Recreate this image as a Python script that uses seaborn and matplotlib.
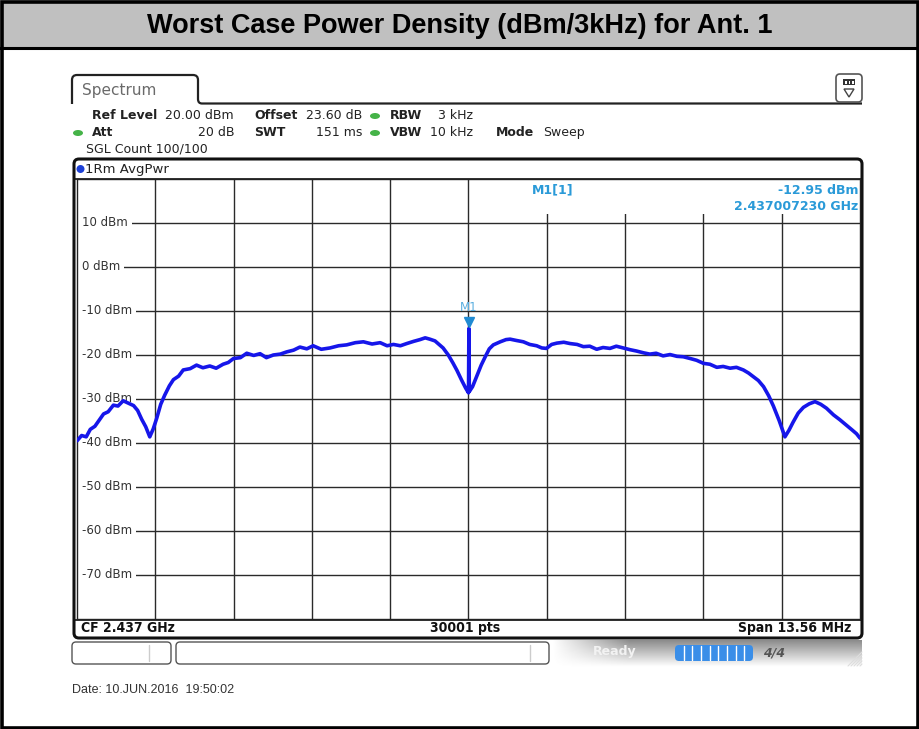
import numpy as np
import pandas as pd
import matplotlib
matplotlib.use("Agg")
import matplotlib.pyplot as plt
import seaborn as sns
import matplotlib.transforms as mtransforms
from matplotlib.patches import FancyBboxPatch, Rectangle, Ellipse, Polygon, PathPatch
from matplotlib.path import Path

# ---------------- data ----------------
TITLE = "Worst Case Power Density (dBm/3kHz) for Ant. 1"
CF_GHZ = 2.437
SPAN_MHZ = 13.56
REF_LEVEL = 20.0
BOTTOM_LEVEL = -80.0
y_ticks = [10, 0, -10, -20, -30, -40, -50, -60, -70]
y_tick_labels = ["10 dBm", "0 dBm", "-10 dBm", "-20 dBm", "-30 dBm",
                 "-40 dBm", "-50 dBm", "-60 dBm", "-70 dBm"]
n_divisions = 10

freq_offset_mhz = [
    -6.78, -6.70, -6.62, -6.55, -6.47, -6.40, -6.32, -6.24, -6.15, -6.07,
    -5.98, -5.90, -5.80, -5.73, -5.66, -5.59, -5.52, -5.46, -5.40, -5.33,
    -5.26, -5.18, -5.11, -5.02, -4.94, -4.82, -4.71, -4.60, -4.48, -4.37,
    -4.25, -4.16, -4.07, -3.95, -3.84, -3.72, -3.61, -3.50, -3.38, -3.26,
    -3.15, -3.03, -2.92, -2.80, -2.69, -2.55, -2.40, -2.25, -2.11, -1.96,
    -1.82, -1.67, -1.53, -1.41, -1.30, -1.18, -1.07, -0.95, -0.84, -0.75,
    -0.67, -0.58, -0.44, -0.35, -0.27, -0.20, -0.12, -0.05, 0.0, 0.007,
    0.014, 0.07, 0.14, 0.22, 0.29, 0.36, 0.43, 0.55, 0.65, 0.72,
    0.83, 0.95, 1.06, 1.18, 1.27, 1.35, 1.44, 1.53, 1.65, 1.76,
    1.88, 1.99, 2.10, 2.22, 2.33, 2.45, 2.56, 2.68, 2.80, 2.91,
    3.03, 3.14, 3.25, 3.37, 3.49, 3.61, 3.72, 3.84, 3.95, 4.07,
    4.18, 4.30, 4.41, 4.53, 4.64, 4.76, 4.85, 4.93, 5.02, 5.11,
    5.20, 5.28, 5.38, 5.48, 5.55, 5.62, 5.71, 5.80, 5.90, 6.00,
    6.10, 6.20, 6.32, 6.43, 6.54, 6.64, 6.72, 6.78,
]
level_dbm = [
    -39.5, -38.3, -38.6, -36.9, -36.2, -34.9, -33.4, -32.9, -31.4, -31.6,
    -30.4, -30.9, -31.5, -32.6, -34.6, -36.3, -38.6, -36.8, -34.4, -31.2,
    -29.1, -27.0, -25.6, -24.8, -23.4, -23.1, -22.3, -22.9, -22.5, -23.0,
    -22.1, -21.7, -20.8, -20.6, -19.6, -20.1, -19.7, -20.6, -20.0, -19.8,
    -19.3, -18.9, -18.2, -18.6, -17.9, -18.7, -18.4, -17.9, -17.7, -17.2,
    -17.0, -17.5, -17.2, -17.9, -17.6, -17.9, -17.4, -16.9, -16.5, -16.1,
    -16.4, -16.8, -18.4, -20.0, -21.8, -23.5, -25.7, -27.5, -28.6, -14.0,
    -28.3, -27.2, -24.9, -22.3, -20.4, -18.6, -17.7, -17.0, -16.5, -16.4,
    -16.7, -17.0, -17.6, -17.9, -18.4, -18.5, -17.6, -17.3, -17.1, -17.4,
    -17.6, -18.1, -18.0, -18.7, -18.3, -18.5, -18.0, -18.4, -18.8, -19.1,
    -19.5, -19.8, -19.6, -20.2, -19.9, -20.3, -20.4, -20.8, -21.2, -21.9,
    -22.1, -22.8, -22.6, -23.0, -22.8, -23.4, -24.1, -24.9, -25.8, -27.2,
    -29.3, -31.6, -34.9, -38.6, -37.1, -35.3, -33.2, -31.9, -31.1, -30.6,
    -31.2, -32.1, -33.6, -34.7, -35.9, -37.0, -37.9, -38.9,
]
marker_freq_ghz = 2.437007230
marker_level_dbm = -12.95

# ---------------- style ----------------
sns.set_style("white")
plt.rcParams["font.family"] = ["DejaVu Sans"]

W, H = 919, 729
fig = plt.figure(figsize=(W / 100, H / 100), dpi=100)
fig.patch.set_facecolor("white")

bg = fig.add_axes([0, 0, 1, 1])
bg.set_xlim(0, W)
bg.set_ylim(H, 0)
bg.axis("off")

# outer border + title bar
bg.add_patch(Rectangle((0, 0), W, 47, facecolor="#c0c0c0", edgecolor="none"))
bg.plot([0, W], [47.5, 47.5], color="black", lw=2.2)
bg.add_patch(Rectangle((1.5, 1.5), W - 3, H - 3, facecolor="none", edgecolor="black", lw=2.6))
bg.text(W / 2, 25.5, TITLE, ha="center", va="center", fontsize=19.5,
        fontweight="bold", family="Liberation Sans", color="black")

# spectrum tab
verts = [(72, 104), (72, 80), (72, 75), (77, 75), (193, 75), (198, 75), (198, 80),
         (198, 99), (198, 103.5), (202, 103.5), (862, 103.5)]
codes = [Path.MOVETO, Path.LINETO, Path.CURVE3, Path.CURVE3, Path.LINETO, Path.CURVE3,
         Path.CURVE3, Path.LINETO, Path.CURVE3, Path.CURVE3, Path.LINETO]
bg.add_patch(PathPatch(Path(verts, codes), facecolor="none", edgecolor="#222222", lw=1.6))
bg.text(82, 90, "Spectrum", ha="left", va="center", fontsize=11, color="#6a6a6a")

# top-right icon
bg.add_patch(FancyBboxPatch((836, 74), 26, 28, boxstyle="round,pad=0,rounding_size=4",
                            facecolor="white", edgecolor="#555555", lw=1.2))
bg.add_patch(Rectangle((843, 79), 12, 6, facecolor="#333333", edgecolor="none"))
for xx in (845, 848.5, 852):
    bg.add_patch(Rectangle((xx, 80.5), 1.8, 3, facecolor="white", edgecolor="none"))
bg.add_patch(Polygon([(844, 89), (854, 89), (849, 97)], closed=True,
                     facecolor="none", edgecolor="#444444", lw=1))

# info header
green = "#45b348"
info_items = [
    ("Ref Level", 92, 115, "bold", "left"), ("20.00 dBm", 234, 115, "normal", "right"),
    ("Offset", 254, 115, "bold", "left"), ("23.60 dB", 362, 115, "normal", "right"),
    ("RBW", 390, 115, "bold", "left"), ("3 kHz", 473, 115, "normal", "right"),
    ("Att", 92, 132, "bold", "left"), ("20 dB", 234, 132, "normal", "right"),
    ("SWT", 254, 132, "bold", "left"), ("151 ms", 362, 132, "normal", "right"),
    ("VBW", 390, 132, "bold", "left"), ("10 kHz", 473, 132, "normal", "right"),
    ("Mode", 496, 132, "bold", "left"), ("Sweep", 543, 132, "normal", "left"),
    ("SGL Count 100/100", 86, 149, "normal", "left"),
]
for txt, x, y, w, ha in info_items:
    bg.text(x, y, txt, ha=ha, va="center", fontsize=9, fontweight=w, color="#222222")
for (x, y) in [(375, 116), (78, 133), (375, 133)]:
    bg.add_patch(Ellipse((x, y), 10, 6, facecolor=green, edgecolor="none"))

# graph frame
bg.add_patch(FancyBboxPatch((74, 159), 788, 479, boxstyle="round,pad=0,rounding_size=5",
                            facecolor="white", edgecolor="#111111", lw=2.2))
bg.add_patch(Ellipse((80.5, 169), 8, 8, facecolor="#1c3fd6", edgecolor="none"))
bg.text(85, 169, "1Rm AvgPwr", ha="left", va="center", fontsize=9.5, color="#222222")
bg.plot([74, 862], [179, 179], color="#111111", lw=1.2)
bg.plot([74, 862], [619.5, 619.5], color="#111111", lw=1.2)

# bottom bar text
bb_font = dict(fontsize=10, fontweight="bold", fontstretch="condensed", color="#111111", va="center")
bg.text(81, 628, f"CF {CF_GHZ:.3f} GHz", ha="left", **bb_font)
bg.text(465, 628, "30001 pts", ha="center", **bb_font)
bg.text(851, 628, f"Span {SPAN_MHZ:.2f} MHz", ha="right", **bb_font)

# status bar
gx0, gx1, gy0, gy1 = 552, 862, 640, 667
vert = np.linspace(0.55, 1.0, 30)[:, None]
horiz = np.clip(np.linspace(0.0, 4.0, 300), 0, 1)[None, :]
grad = 1.0 - (1.0 - vert) * horiz
bg.imshow(grad, cmap="gray", vmin=0, vmax=1, extent=(gx0, gx1, gy1, gy0),
          aspect="auto", interpolation="bilinear", zorder=1)
bg.set_xlim(0, W)
bg.set_ylim(H, 0)
for (x0, x1, div) in [(72, 171, 149), (176, 549, 530)]:
    bg.add_patch(FancyBboxPatch((x0, 642), x1 - x0, 22, boxstyle="round,pad=0,rounding_size=4",
                                facecolor="white", edgecolor="#555555", lw=1, zorder=2))
    bg.plot([div, div], [645, 661], color="#cccccc", lw=1, zorder=3)
bg.text(593, 652, "Ready", ha="left", va="center", fontsize=9, fontweight="bold",
        color="#f2f2f2", zorder=3)
bg.add_patch(FancyBboxPatch((675, 645), 78, 16, boxstyle="round,pad=0,rounding_size=4",
                            facecolor="#3a8ee8", edgecolor="none", zorder=3))
for k in range(1, 9):
    xx = 675 + k * 78 / 9
    bg.plot([xx, xx], [646, 660], color="white", lw=1, zorder=4)
bg.text(763, 653, "4/4", ha="left", va="center", fontsize=9, fontweight="bold",
        style="italic", color="#555555", zorder=3)
for k in range(5):
    bg.plot([848 + k * 3, 862], [666, 652 + k * 3], color="#dddddd", lw=0.8, zorder=3)

bg.text(72, 690, "Date: 10.JUN.2016  19:50:02", ha="left", va="center", fontsize=9,
        family="Liberation Sans", color="#333333")

# ---------------- spectrum axes ----------------
ax = fig.add_axes([77 / W, (H - 619) / H, 783 / W, 440 / H])
ax.set_facecolor("white")
half = SPAN_MHZ / 2
ax.set_xlim(-half, half)
ax.set_ylim(BOTTOM_LEVEL, REF_LEVEL)
ax.set_xticks([])
ax.set_yticks([])
for s in ax.spines.values():
    s.set_color("#222222")
    s.set_linewidth(1.0)

div_w = SPAN_MHZ / n_divisions
for k in range(1, n_divisions):
    ax.axvline(-half + k * div_w, color="#2a2a2a", lw=1.0, zorder=1)
for yv in y_ticks:
    ax.axhline(yv, color="#2a2a2a", lw=1.0, zorder=1)

# marker info box covers top of grid at right
ax.add_patch(Rectangle((0.503, 0.921), 0.497, 0.079, transform=ax.transAxes,
                       facecolor="white", edgecolor="none", zorder=1.5))

trans = mtransforms.blended_transform_factory(ax.transAxes, ax.transData)
for yv, lab in zip(y_ticks, y_tick_labels):
    ax.text(0.006, yv, lab, transform=trans, ha="left", va="center", fontsize=8.5,
            color="#333333", zorder=2,
            bbox=dict(facecolor="white", edgecolor="none", pad=3.2))

df = pd.DataFrame({"freq_offset_mhz": freq_offset_mhz, "level_dbm": level_dbm})
sns.lineplot(data=df, x="freq_offset_mhz", y="level_dbm", ax=ax, sort=False,
             estimator=None, color="#1616ea", lw=2.6, zorder=3)
ax.set_xlabel("")
ax.set_ylabel("")

mk_col = "#2a9ad8"
m_off = (marker_freq_ghz - CF_GHZ) * 1000
ax.plot([m_off], [marker_level_dbm + 0.4], marker="v", color="#1f8ad2", ms=7, zorder=4)
ax.text(m_off, -9.3, "M1", ha="center", va="center", fontsize=8.5, color="#5aaee0", zorder=4)
ax.text(0.581, 0.975, "M1[1]", transform=ax.transAxes, ha="left", va="center",
        fontsize=9, fontweight="bold", color=mk_col, zorder=4)
ax.text(0.9975, 0.975, f"{marker_level_dbm:.2f} dBm", transform=ax.transAxes, ha="right",
        va="center", fontsize=9, fontweight="bold", color=mk_col, zorder=4)
ax.text(0.9975, 0.9386, f"{marker_freq_ghz:.9f} GHz", transform=ax.transAxes, ha="right",
        va="center", fontsize=9, fontweight="bold", color=mk_col, zorder=4)

fig.savefig("out.png", dpi=100)
